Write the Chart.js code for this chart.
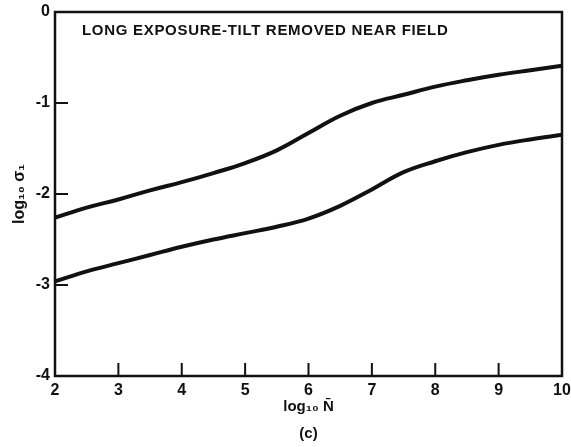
<!DOCTYPE html>
<html>
<head>
<meta charset="utf-8">
<script src="https://cdn.jsdelivr.net/npm/chart.js@4/dist/chart.umd.min.js"></script>
<style>
  html, body { margin: 0; padding: 0; background: #fff; }
  #wrap { width: 571px; height: 447px; }
</style>
</head>
<body>
<div id="wrap"><canvas id="chart" width="571" height="447"></canvas></div>
<script>
// log10 N along the bottom axis
const logN = [2, 2.5, 3, 3.5, 4, 4.5, 5, 5.5, 6, 6.5, 7, 7.5, 8, 8.5, 9, 9.5, 10];
// log10 sigma_1, upper and lower curves
const upperSigma = [-2.26, -2.15, -2.06, -1.96, -1.87, -1.77, -1.66, -1.52, -1.33,
  -1.14, -1.00, -0.91, -0.82, -0.75, -0.69, -0.64, -0.59];
const lowerSigma = [-2.96, -2.85, -2.76, -2.67, -2.58, -2.50, -2.43, -2.36, -2.27,
  -2.13, -1.95, -1.76, -1.64, -1.54, -1.46, -1.40, -1.35];
const xTicks = [2, 3, 4, 5, 6, 7, 8, 9, 10];
const yTicks = [0, -1, -2, -3, -4];
const panelNote = 'LONG EXPOSURE-TILT REMOVED NEAR FIELD';

const INK = '#111';
const FONT = '"Liberation Sans", Arial, sans-serif';

const toPoints = (ys) => logN.map((x, i) => ({ x, y: ys[i] }));

// frame, inward tick marks and the note in the upper left
const framePlugin = {
  id: 'frame',
  afterDraw(chart) {
    const { ctx, chartArea: a, scales } = chart;
    ctx.save();
    ctx.strokeStyle = INK;
    ctx.lineWidth = 2.5;
    ctx.strokeRect(a.left, a.top, a.right - a.left, a.bottom - a.top);
    ctx.lineWidth = 2;
    ctx.beginPath();
    xTicks.forEach((v) => {
      const px = scales.x.getPixelForValue(v);
      ctx.moveTo(px, a.bottom);
      ctx.lineTo(px, a.bottom - 13);
    });
    yTicks.forEach((v) => {
      const py = scales.y.getPixelForValue(v);
      ctx.moveTo(a.left, py);
      ctx.lineTo(a.left + 13, py);
    });
    ctx.stroke();
    ctx.fillStyle = INK;
    ctx.font = 'bold 15px ' + FONT;
    ctx.letterSpacing = '0.7px';
    ctx.textBaseline = 'alphabetic';
    ctx.fillText(panelNote, a.left + 27, a.top + 23);
    ctx.restore();
  },
};

new Chart(document.getElementById('chart'), {
  type: 'line',
  data: {
    datasets: [
      { data: toPoints(upperSigma) },
      { data: toPoints(lowerSigma) },
    ],
  },
  options: {
    responsive: false,
    animation: false,
    events: [],
    layout: { padding: { top: 12, right: 9, bottom: 0, left: 0 } },
    elements: {
      line: { borderColor: INK, borderWidth: 4, tension: 0.4, fill: false },
      point: { radius: 0 },
    },
    plugins: { legend: { display: false }, tooltip: { enabled: false } },
    scales: {
      x: {
        type: 'linear',
        min: 2,
        max: 10,
        afterFit: (s) => { s.height = 71; s.paddingLeft = 0; s.paddingRight = 0; },
        afterBuildTicks: (s) => { s.ticks = xTicks.map((v) => ({ value: v })); },
        grid: { display: false, drawTicks: false },
        border: { display: false },
        ticks: { color: INK, padding: 5, font: { family: FONT, size: 16, weight: 'bold' } },
        title: {
          display: true,
          text: ['log\u2081\u2080 N\u0304', '(c)'],
          color: INK,
          padding: { top: 0, bottom: 0 },
          font: { family: FONT, size: 15, weight: 'bold', lineHeight: 1.8 },
        },
      },
      y: {
        min: -4,
        max: 0,
        afterFit: (s) => { s.width = 55; s.paddingTop = 0; s.paddingBottom = 0; },
        afterBuildTicks: (s) => { s.ticks = yTicks.map((v) => ({ value: v })); },
        grid: { display: false, drawTicks: false },
        border: { display: false },
        ticks: { color: INK, padding: 5, font: { family: FONT, size: 16, weight: 'bold' } },
        title: {
          display: true,
          text: 'log\u2081\u2080 \u03c3\u2081',
          color: INK,
          padding: { top: 10, bottom: 0 },
          font: { family: FONT, size: 16, weight: 'bold' },
        },
      },
    },
  },
  plugins: [framePlugin],
});
</script>
</body>
</html>
